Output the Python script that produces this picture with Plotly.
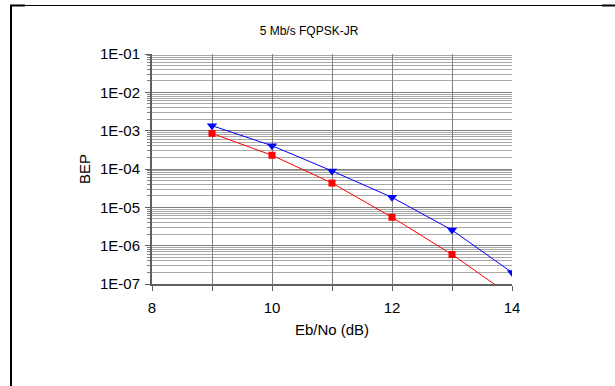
import plotly.graph_objects as go

# Data
ebno = [9, 10, 11, 12, 13, 14]
bep_blue = [1.35e-3, 4.05e-4, 8.9e-5, 1.82e-5, 2.56e-6, 2.0e-7]
bep_red = [8.5e-4, 2.28e-4, 4.3e-5, 5.5e-6, 5.9e-7, 4.7e-8]

x_tickvals = [8, 9, 10, 11, 12, 13, 14]
x_ticktext = ["8", "", "10", "", "12", "", "14"]
y_tickvals = [1e-7, 1e-6, 1e-5, 1e-4, 1e-3, 1e-2, 1e-1]
y_ticktext = ["1E-07", "1E-06", "1E-05", "1E-04", "1E-03", "1E-02", "1E-01"]

W, H = 615, 386
L, R, T, B = 152, 512, 54, 284
pw, ph = R - L, B - T


def px(x):
    return (x - L) / pw


def py(y):
    return (B - y) / ph


fig = go.Figure()
fig.add_trace(go.Scatter(
    x=ebno, y=bep_blue, mode="lines+markers",
    line=dict(color="#0000FF", width=1),
    marker=dict(symbol="triangle-down", size=9, color="#0000FF"),
    showlegend=False,
))
fig.add_trace(go.Scatter(
    x=ebno, y=bep_red, mode="lines+markers",
    line=dict(color="#FF0000", width=1),
    marker=dict(symbol="square", size=7, color="#FF0000"),
    showlegend=False,
))

axis_font = dict(family="Arial, Liberation Sans, sans-serif", size=15, color="#000000")

fig.update_layout(
    width=W, height=H,
    margin=dict(l=L, r=W - R, t=T, b=H - B),
    paper_bgcolor="white", plot_bgcolor="white",
    font=axis_font,
    xaxis=dict(
        range=[8, 14], tickvals=x_tickvals, ticktext=x_ticktext,
        showgrid=True, gridcolor="#808080", gridwidth=1,
        showline=True, linecolor="#606060", linewidth=2,
        ticks="outside", ticklen=5, tickcolor="#606060",
        ticklabelstandoff=4,
        zeroline=False, tickfont=axis_font,
        title=dict(text="Eb/No (dB)", font=axis_font, standoff=9),
    ),
    yaxis=dict(
        type="log", range=[-7, -1], tickvals=y_tickvals, ticktext=y_ticktext,
        showgrid=True, gridcolor="#808080", gridwidth=1,
        showline=True, linecolor="#606060", linewidth=2,
        ticks="outside", ticklen=5, tickcolor="#606060",
        ticklabelstandoff=2,
        zeroline=False, tickfont=axis_font,
        minor=dict(dtick="D1", showgrid=True, gridcolor="#a8a8a8", gridwidth=1,
                   ticks="outside", ticklen=3, tickcolor="#808080"),
        title=dict(text="BEP", font=dict(family="Arial, Liberation Sans, sans-serif", size=15), standoff=6),
    ),
    title=dict(text="5 Mb/s FQPSK-JR", x=309 / W, xref="container", xanchor="center",
               y=1 - 31 / H, yref="container", yanchor="middle",
               font=dict(family="Arial, Liberation Sans, sans-serif", size=12, color="#000000")),
    shapes=[
        dict(type="line", xref="paper", yref="paper", x0=px(11), x1=px(11), y0=py(5), y1=py(H),
             line=dict(color="black", width=2)),
        dict(type="line", xref="paper", yref="paper", x0=px(10), x1=px(W), y0=py(5.5), y1=py(5.5),
             line=dict(color="black", width=1)),
        dict(type="line", xref="paper", yref="paper", x0=px(10), x1=px(25), y0=py(5.5), y1=py(5.5),
             line=dict(color="black", width=2)),
        dict(type="line", xref="paper", yref="paper", x0=px(602), x1=px(W), y0=py(5.5), y1=py(5.5),
             line=dict(color="black", width=2)),
    ],
)

fig.write_html("out.html")
